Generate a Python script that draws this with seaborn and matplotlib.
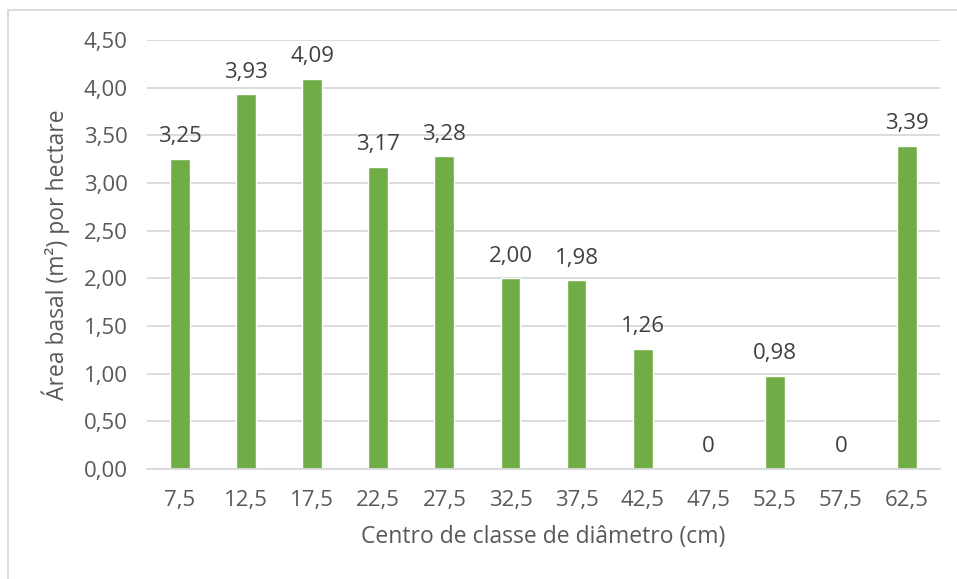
import matplotlib
matplotlib.use("Agg")
import matplotlib.pyplot as plt
import seaborn as sns
import pandas as pd
from matplotlib.patches import Rectangle

categories = ["7,5", "12,5", "17,5", "22,5", "27,5", "32,5", "37,5", "42,5", "47,5", "52,5", "57,5", "62,5"]
values = [3.25, 3.93, 4.09, 3.17, 3.28, 2.00, 1.98, 1.26, 0, 0.98, 0, 3.39]
value_labels = ["3,25", "3,93", "4,09", "3,17", "3,28", "2,00", "1,98", "1,26", "0", "0,98", "0", "3,39"]
yticks = [0, 0.5, 1.0, 1.5, 2.0, 2.5, 3.0, 3.5, 4.0, 4.5]
ytick_labels = ["0,00", "0,50", "1,00", "1,50", "2,00", "2,50", "3,00", "3,50", "4,00", "4,50"]

sns.set_theme(style="white")
plt.rcParams['font.family'] = ['Open Sans', 'DejaVu Sans']
txt = "#595959"
grid = "#D9D9D9"

df = pd.DataFrame({"cat": categories, "val": values})
fig = plt.figure(figsize=(9.57, 5.79), dpi=100)
ax = fig.add_axes([147/957, 1-469/579, (940-147)/957, (469-40)/579])

sns.barplot(data=df, x="cat", y="val", color="#70AD47", width=0.3, ax=ax, saturation=1)

ax.set_ylim(0, 4.5)
ax.set_yticks(yticks)
ax.set_yticklabels(ytick_labels)
ax.yaxis.grid(True, color=grid, linewidth=1.3)
ax.set_axisbelow(True)
for s in ["top", "right", "left"]:
    ax.spines[s].set_visible(False)
ax.spines["bottom"].set_color(grid)
ax.spines["bottom"].set_linewidth(1.3)
ax.tick_params(axis="both", length=0, colors=txt, labelsize=16)
ax.tick_params(axis="y", pad=14)
ax.tick_params(axis="x", pad=15)
ax.set_xlabel("Centro de classe de diâmetro (cm)", color=txt, fontsize=16.5, labelpad=10)
ax.set_ylabel("Área basal (m²) por hectare", color=txt, fontsize=16.5, labelpad=10)

for i, (v, lab) in enumerate(zip(values, value_labels)):
    ax.annotate(lab, (i, v), xytext=(0, 12), textcoords="offset points",
                ha="center", va="baseline", color="#404040", fontsize=16)

fig.patches.append(Rectangle((8/957, -0.1), 1.1, 1.1 - 10/579, transform=fig.transFigure,
                             fill=False, edgecolor=grid, linewidth=1.3))

fig.savefig("out.png", dpi=100)
